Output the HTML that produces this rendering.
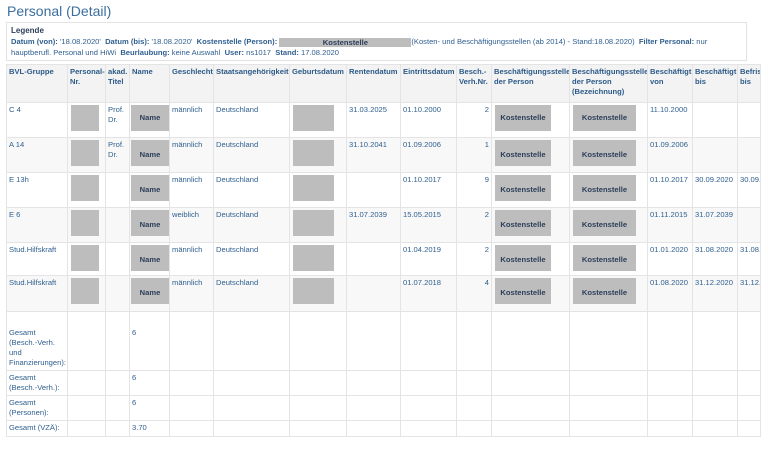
<!DOCTYPE html>
<html><head><meta charset="utf-8">
<style>
body{margin:0;width:768px;height:451px;overflow:hidden;background:#fff;font-family:"Liberation Sans",sans-serif;color:#2f5f8f;position:relative}
.title{position:absolute;left:7px;top:3px;font-size:14px;color:#3b6e9e}
.legend{position:absolute;left:6px;top:22px;width:741px;height:39px;border:1px solid #e2e2e2;font-size:7.6px;box-sizing:border-box;padding:2px 4px;line-height:11px}
.legend b{font-weight:bold}
.legend .lt{color:#2c3e5a;font-weight:bold;font-size:8px}
.ks{display:inline-block;background:#bdbdbd;width:132px;height:9px;text-align:center;color:#2c3e5a;font-weight:bold;vertical-align:middle;line-height:9px}
table{position:absolute;left:6px;top:64px;border-collapse:collapse;table-layout:fixed;font-size:7.6px;width:754px}
td,th{border:1px solid #e4e4e4;vertical-align:top;padding:2px 2px;overflow:hidden;white-space:nowrap;line-height:10px;box-sizing:border-box}
th{background:#f3f3f3;text-align:left;font-weight:bold;color:#2c5a88;white-space:normal}
tr.alt td{background:#f8f8f8}
td.r{text-align:right}
td{position:relative}
.g{position:absolute;background:#bdbdbd;color:#2c3e5a;font-weight:bold;text-align:center}
.pn{left:3px;top:2px;width:28px;height:26px}
.nm{left:1px;top:2px;width:38px;height:26px;line-height:30px}
.gb{left:3px;top:2px;width:41px;height:26px}
.ks1{left:3px;top:2px;width:56px;height:26px;line-height:30px}
.ks2{left:3px;top:2px;width:63px;height:26px;line-height:30px}
tr.d{height:35px}
td.wrap{white-space:normal}
</style></head><body>
<div class="title">Personal (Detail)</div>
<div class="legend">
<div class="lt">Legende</div>
<div><b>Datum (von):</b> '18.08.2020' &nbsp;<b>Datum (bis):</b> '18.08.2020' &nbsp;<b>Kostenstelle (Person):</b> <span class="ks">Kostenstelle</span>(Kosten- und Beschäftigungsstellen (ab 2014) - Stand:18.08.2020) &nbsp;<b>Filter Personal:</b> nur</div>
<div>hauptberufl. Personal und HiWi &nbsp;<b>Beurlaubung:</b> keine Auswahl &nbsp;<b>User:</b> ns1017 &nbsp;<b>Stand:</b> 17.08.2020</div>
</div>
<table>
<colgroup><col style="width:61px"><col style="width:38px"><col style="width:24px"><col style="width:40px"><col style="width:44px"><col style="width:76px"><col style="width:57px"><col style="width:54px"><col style="width:56px"><col style="width:35px"><col style="width:78px"><col style="width:78px"><col style="width:45px"><col style="width:45px"><col style="width:23px"></colgroup>
<tr style="height:38px"><th>BVL-Gruppe</th><th>Personal-Nr.</th><th>akad. Titel</th><th>Name</th><th>Geschlecht</th><th>Staatsangehörigkeit</th><th>Geburtsdatum</th><th>Rentendatum</th><th>Eintrittsdatum</th><th>Besch.-Verh.Nr.</th><th>Beschäftigungsstelle der Person</th><th>Beschäftigungsstelle der Person (Bezeichnung)</th><th>Beschäftigt von</th><th>Beschäftigt bis</th><th>Befris bis</th></tr>
<tr class="d"><td>C 4</td><td><div class="g pn"></div></td><td class="wrap">Prof. Dr.</td><td><div class="g nm" style="line-height:26px">Name</div></td><td>männlich</td><td>Deutschland</td><td><div class="g gb"></div></td><td>31.03.2025</td><td>01.10.2000</td><td class="r">2</td><td><div class="g ks1" style="line-height:26px">Kostenstelle</div></td><td><div class="g ks2" style="line-height:26px">Kostenstelle</div></td><td>11.10.2000</td><td></td><td></td></tr>
<tr class="d alt"><td>A 14</td><td><div class="g pn"></div></td><td class="wrap">Prof. Dr.</td><td><div class="g nm">Name</div></td><td>männlich</td><td>Deutschland</td><td><div class="g gb"></div></td><td>31.10.2041</td><td>01.09.2006</td><td class="r">1</td><td><div class="g ks1">Kostenstelle</div></td><td><div class="g ks2">Kostenstelle</div></td><td>01.09.2006</td><td></td><td></td></tr>
<tr class="d"><td>E 13h</td><td><div class="g pn"></div></td><td></td><td><div class="g nm">Name</div></td><td>männlich</td><td>Deutschland</td><td><div class="g gb"></div></td><td></td><td>01.10.2017</td><td class="r">9</td><td><div class="g ks1">Kostenstelle</div></td><td><div class="g ks2">Kostenstelle</div></td><td>01.10.2017</td><td>30.09.2020</td><td>30.09.</td></tr>
<tr class="d alt"><td>E 6</td><td><div class="g pn"></div></td><td></td><td><div class="g nm">Name</div></td><td>weiblich</td><td>Deutschland</td><td><div class="g gb"></div></td><td>31.07.2039</td><td>15.05.2015</td><td class="r">2</td><td><div class="g ks1">Kostenstelle</div></td><td><div class="g ks2">Kostenstelle</div></td><td>01.11.2015</td><td>31.07.2039</td><td></td></tr>
<tr class="d" style="height:33px"><td>Stud.Hilfskraft</td><td><div class="g pn"></div></td><td></td><td><div class="g nm">Name</div></td><td>männlich</td><td>Deutschland</td><td><div class="g gb"></div></td><td></td><td>01.04.2019</td><td class="r">2</td><td><div class="g ks1">Kostenstelle</div></td><td><div class="g ks2">Kostenstelle</div></td><td>01.01.2020</td><td>31.08.2020</td><td>31.08.</td></tr>
<tr class="d alt" style="height:36px"><td>Stud.Hilfskraft</td><td><div class="g pn"></div></td><td></td><td><div class="g nm">Name</div></td><td>männlich</td><td>Deutschland</td><td><div class="g gb"></div></td><td></td><td>01.07.2018</td><td class="r">4</td><td><div class="g ks1">Kostenstelle</div></td><td><div class="g ks2">Kostenstelle</div></td><td>01.08.2020</td><td>31.12.2020</td><td>31.12.</td></tr>
<tr style="height:50px"><td class="wrap" style="padding-top:16px">Gesamt (Besch.-Verh. und Finanzierungen):</td><td></td><td></td><td style="padding-top:16px">6</td><td></td><td></td><td></td><td></td><td></td><td></td><td></td><td></td><td></td><td></td><td></td></tr>
<tr style="height:25px"><td class="wrap">Gesamt (Besch.-Verh.):</td><td></td><td></td><td>6</td><td></td><td></td><td></td><td></td><td></td><td></td><td></td><td></td><td></td><td></td><td></td></tr>
<tr style="height:25px"><td class="wrap">Gesamt (Personen):</td><td></td><td></td><td>6</td><td></td><td></td><td></td><td></td><td></td><td></td><td></td><td></td><td></td><td></td><td></td></tr>
<tr style="height:16px"><td>Gesamt (VZÄ):</td><td></td><td></td><td>3.70</td><td></td><td></td><td></td><td></td><td></td><td></td><td></td><td></td><td></td><td></td><td></td></tr>
</table>
</body></html>
